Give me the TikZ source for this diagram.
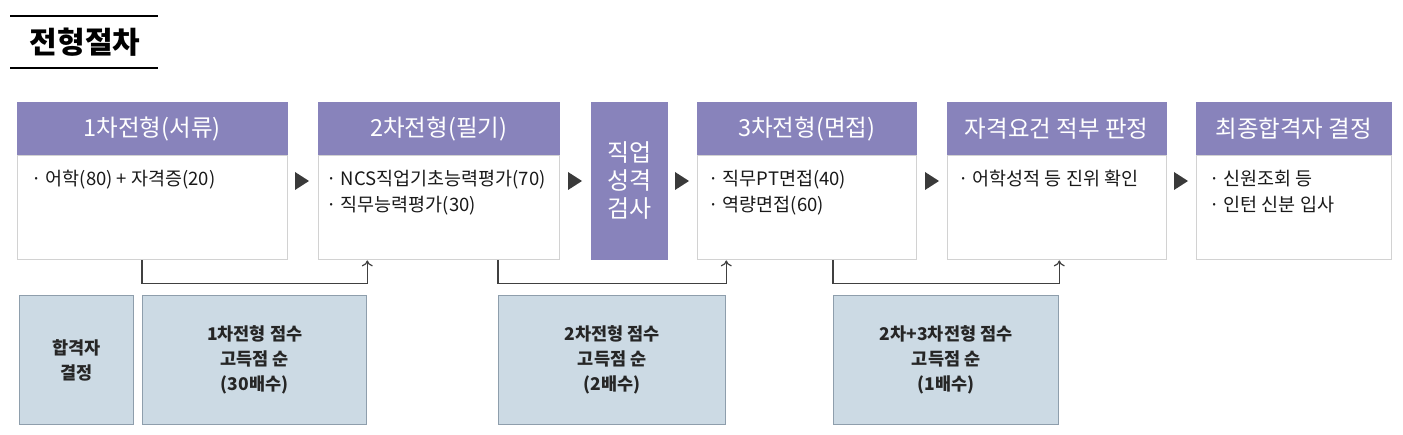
\documentclass[tikz,border=0pt]{standalone}
\usepackage{fontspec}
\setmainfont{Noto Sans CJK KR}
\usetikzlibrary{arrows.meta}
\definecolor{headpurple}{HTML}{8883BB}
\definecolor{boxgray}{HTML}{D2D2D2}
\definecolor{scorefill}{HTML}{CCDAE4}
\definecolor{scoreedge}{HTML}{8E9EAC}
\definecolor{linkgray}{HTML}{404040}
\definecolor{trigray}{HTML}{3A3A3A}
\tikzset{
	head/.style={fill=headpurple, draw=headpurple, text=white, inner sep=0pt, anchor=north west, font=\fontsize{23.5}{28}\selectfont},
	body/.style={draw=boxgray, line width=1pt, fill=white, inner sep=0pt, anchor=north west},
	item/.style={anchor=north west, align=left, inner sep=0pt, text=black!90, font=\fontsize{18.5}{26}\selectfont},
	score/.style={draw=scoreedge, fill=scorefill, line width=1.3pt, inner sep=0pt, anchor=north west, align=center, text=black!85, font=\bfseries\fontsize{17.5}{25}\selectfont},
	link/.style={draw=linkgray, line width=1.2pt, -{To[length=6pt, width=11pt]}},
	tri/.style={fill=trigray}
}

\begin{document}
\begin{tikzpicture}[x=1pt, y=-1pt]

	\useasboundingbox (0,0) rectangle (1403,435);

	% title
	\node[font=\bfseries\fontsize{30}{34}\selectfont] (title) at (85,42) {전형절차};
	\draw[line width=2.6pt] (10,16) -- (158,16);
	\draw[line width=2.6pt] (10,68) -- (158,68);

	% steps
	\node[head, minimum width=270pt, minimum height=53pt] (h1) at (17,102) {1차전형(서류)};
	\node[body, minimum width=270pt, minimum height=104pt] (b1) at (h1.south west) {};
	\node[item] (t1) at (31,170) {· 어학(80) + 자격증(20)};

	\node[head, minimum width=241pt, minimum height=53pt] (h2) at (318,102) {2차전형(필기)};
	\node[body, minimum width=241pt, minimum height=104pt] (b2) at (h2.south west) {};
	\node[item] (t2) at (326,170) {· NCS직업기초능력평가(70)\\· 직무능력평가(30)};

	\node[head, minimum width=76pt, minimum height=157pt, align=center, font=\fontsize{24}{28}\selectfont] (apt) at (591,102) {직업\\성격\\검사};

	\node[head, minimum width=219pt, minimum height=53pt] (h3) at (697,102) {3차전형(면접)};
	\node[body, minimum width=219pt, minimum height=104pt] (b3) at (h3.south west) {};
	\node[item] (t3) at (708,170) {· 직무PT면접(40)\\· 역량면접(60)};

	\node[head, minimum width=219pt, minimum height=53pt] (h4) at (947,102) {자격요건 적부 판정};
	\node[body, minimum width=219pt, minimum height=104pt] (b4) at (h4.south west) {};
	\node[item] (t4) at (958,170) {· 어학성적 등 진위 확인};

	\node[head, minimum width=195pt, minimum height=53pt] (h5) at (1196,102) {최종합격자 결정};
	\node[body, minimum width=195pt, minimum height=104pt] (b5) at (h5.south west) {};
	\node[item] (t5) at (1209,170) {· 신원조회 등\\· 인턴 신분 입사};

	% triangles
	\foreach \n/\x in {a1/302, a2/575, a3/682, a4/932, a5/1181}{
		\coordinate (\n) at (\x,181);
		\fill[tri] (\n) ++(-7,-9) -- ++(14,9) -- ++(-14,9) -- cycle;
	}

	% cut-off rules
	\node[score, minimum width=114pt, minimum height=129pt] (pass) at (19,295) {합격자\\결정};
	\node[score, minimum width=224pt, minimum height=129pt] (s1) at (142,295) {1차전형 점수\\고득점 순\\(30배수)};
	\node[score, minimum width=227pt, minimum height=129pt] (s2) at (498,295) {2차전형 점수\\고득점 순\\(2배수)};
	\node[score, minimum width=225pt, minimum height=129pt] (s3) at (833,295) {2차+3차전형 점수\\고득점 순\\(1배수)};

	% links
	\draw[link] (b1.south -| s1.west) -- ++(0,23) -| (b2.south -| s1.east);
	\draw[link] (b2.south -| s2.west) -- ++(0,23) -| (b3.south -| s2.east);
	\draw[link] (b3.south -| s3.west) -- ++(0,23) -| (b4.south -| s3.east);

\end{tikzpicture}
\end{document}
